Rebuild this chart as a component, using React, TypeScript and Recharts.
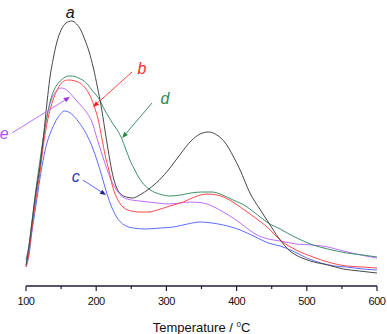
import { LineChart, Line, XAxis, YAxis, ReferenceLine, ReferenceDot, Label } from 'recharts';

// Temperatures (°C) and signal heights, one pair per curve
const tempA = [100, 104, 108, 114, 120, 125, 130, 134, 139, 144, 150, 157, 165, 172, 178, 184, 190, 196, 202, 207, 212, 217, 222, 228, 235, 243, 252, 262, 275, 290, 305, 320, 335, 348, 360, 372, 384, 395, 405, 419, 433, 445, 460, 476, 490, 505, 530, 552, 575, 600];
const sigA = [21, 38, 60, 93, 120, 150, 184, 208, 228, 244, 256, 263, 265, 262, 256, 246, 234, 218, 198, 180, 158, 136, 116, 100, 92, 89, 88, 91, 97, 106, 118, 132, 145, 152, 154, 151, 143, 130, 116, 93, 77, 64, 48, 35, 29, 25, 21, 17, 15, 13];

const tempB = [100, 104, 108, 114, 120, 125, 130, 135, 139, 145, 152, 160, 170, 182, 190, 197, 203, 208, 213, 218, 224, 231, 238, 250, 262, 275, 287, 305, 324, 340, 358, 372, 390, 405, 425, 445, 462, 485, 509, 530, 557, 580, 600];
const sigB = [19, 32, 55, 86, 114, 142, 163, 178, 187, 197, 204, 206, 205, 200, 192, 180, 166, 148, 130, 116, 98, 86, 79, 75, 74, 74, 76, 80, 84, 89, 92, 91, 86, 79, 69, 58, 46, 36, 29, 24, 20, 19, 18];

const tempC = [100, 104, 108, 114, 120, 128, 137, 145, 155, 165, 175, 186, 195, 201, 208, 215, 222, 229, 240, 253, 270, 292, 310, 330, 348, 365, 381, 405, 415, 430, 445, 462, 480, 500, 520, 540, 557, 580, 600];
const sigC = [19, 30, 52, 80, 108, 138, 157, 168, 175, 172, 164, 152, 138, 126, 110, 93, 79, 69, 61, 58, 57, 58, 59, 62, 64, 63, 61, 56, 53, 48, 43, 40, 35, 28, 23, 20, 19, 17, 16];

const tempD = [100, 104, 108, 114, 120, 125, 130, 135, 140, 146, 152, 160, 166, 175, 186, 195, 205, 212, 218, 224, 230, 236, 242, 248, 255, 262, 270, 277, 290, 305, 320, 335, 350, 365, 380, 395, 405, 415, 430, 445, 462, 480, 495, 509, 530, 557, 580, 600];
const sigD = [26, 40, 62, 96, 126, 150, 170, 186, 196, 203, 207, 210, 210, 208, 203, 195, 186, 176, 169, 162, 156, 148, 137, 126, 116, 107, 100, 96, 92, 90, 91, 93, 94, 94, 91, 86, 83, 79, 71, 63, 57, 50, 45, 41, 37, 33, 31, 29];

const tempE = [100, 104, 108, 114, 120, 125, 130, 136, 142, 150, 158, 165, 175, 185, 194, 201, 210, 220, 228, 236, 244, 262, 287, 301, 320, 334, 352, 365, 381, 395, 405, 418, 429, 445, 462, 485, 509, 530, 547, 570, 600];
const sigE = [20, 35, 58, 90, 120, 148, 170, 186, 194, 198, 196, 191, 183, 175, 164, 148, 128, 108, 97, 90, 87, 85, 83, 82, 83, 84, 83, 80, 74, 68, 63, 56, 51, 47, 45, 42, 41, 39, 36, 32, 28];

const xTicks = [100, 150, 200, 250, 300, 350, 400, 450, 500, 550, 600];

const toPoints = (t: number[], v: number[]) => t.map((x, i) => ({ t: x, v: v[i] }));

const series = [
  { key: 'e', color: '#bf6bff', data: toPoints(tempE, sigE) },
  { key: 'c', color: '#5b6cff', data: toPoints(tempC, sigC) },
  { key: 'd', color: '#3f8f68', data: toPoints(tempD, sigD) },
  { key: 'b', color: '#ff4a4a', data: toPoints(tempB, sigB) },
  { key: 'a', color: '#474747', data: toPoints(tempA, sigA) },
];

// curve labels and arrows, in data units
const letters = [
  { text: 'a', t: 163, v: 274, color: '#111111' },
  { text: 'b', t: 265, v: 218, color: '#ff2a2a' },
  { text: 'd', t: 298, v: 188, color: '#2f8a55' },
  { text: 'e', t: 69, v: 153, color: '#b04ef0' },
  { text: 'c', t: 171, v: 110, color: '#2b3cb8' },
];

const arrows = [
  { from: { x: 251, y: 214 }, to: { x: 195.5, y: 179 }, color: '#ff4a4a', head: '#ff1a1a' },
  { from: { x: 279.5, y: 183 }, to: { x: 237, y: 148 }, color: '#3f8f68', head: '#2a8a4a' },
  { from: { x: 80, y: 153 }, to: { x: 162.5, y: 189 }, color: '#c070ff', head: '#9a30e8' },
  { from: { x: 181, y: 106 }, to: { x: 214, y: 91 }, color: '#5b6cff', head: '#1e2a80' },
];

const FONT = '"Liberation Sans", Arial, sans-serif';
const AXIS = '#1c1c3a';

function AxisTick(props: any) {
  const { x, y, payload } = props;
  const major = payload.value % 100 === 0;
  return (
    <g>
      <line x1={x} y1={y} x2={x} y2={y + (major ? 5 : 3)} stroke={AXIS} strokeWidth={1.2} />
      {major && (
        <text x={x} y={y + 19} textAnchor="middle" fontSize={11} fontFamily={FONT} fill="#111" letterSpacing={-0.5}>
          {payload.value}
        </text>
      )}
    </g>
  );
}

function arrowShape(color: string, head: string) {
  return (p: any) => {
    const { x1, y1, x2, y2 } = p;
    const dx = x2 - x1;
    const dy = y2 - y1;
    const len = Math.sqrt(dx * dx + dy * dy) || 1;
    const ux = dx / len;
    const uy = dy / len;
    const bx = x2 - ux * 6;
    const by = y2 - uy * 6;
    const pts = `${x2},${y2} ${bx - uy * 2.5},${by + ux * 2.5} ${bx + uy * 2.5},${by - ux * 2.5}`;
    return (
      <g>
        <line x1={x1} y1={y1} x2={bx} y2={by} stroke={color} strokeWidth={1} />
        <polygon points={pts} fill={head} />
      </g>
    );
  };
}

function letterShape(text: string, color: string) {
  return (p: any) => (
    <text x={p.cx} y={p.cy} textAnchor="middle" dominantBaseline="central" fontSize={16} fontStyle="italic" fontFamily={FONT} fill={color}>
      {text}
    </text>
  );
}

export default function App() {
  return (
    <div style={{ position: 'absolute', left: 0, top: 0, background: '#fff' }}>
      <LineChart width={387} height={334} margin={{ top: 6, right: 10, bottom: 18, left: 26 }}>
        <XAxis
          dataKey="t"
          type="number"
          domain={[100, 600]}
          ticks={xTicks}
          interval={0}
          height={30}
          tickSize={0}
          tickMargin={0}
          tickLine={false}
          tick={<AxisTick />}
          axisLine={{ stroke: AXIS, strokeWidth: 1.5 }}
          allowDuplicatedCategory={false}
        >
          <Label
            content={(p: any) => {
              const vb = p.viewBox;
              return (
                <text x={vb.x + vb.width / 2} y={vb.y + 46} textAnchor="middle" fontSize={13} fontFamily={FONT} fill="#111">
                  Temperature /{' '}
                  <tspan dy={-5} fontSize={8}>0</tspan>
                  <tspan dy={5}>C</tspan>
                </text>
              );
            }}
          />
        </XAxis>
        <YAxis type="number" domain={[0, 280]} hide />
        {series.map((s) => (
          <Line
            key={s.key}
            data={s.data}
            dataKey="v"
            type="monotone"
            stroke={s.color}
            strokeWidth={1}
            dot={false}
            isAnimationActive={false}
          />
        ))}
        {arrows.map((a, i) => (
          <ReferenceLine
            key={`arrow-${i}`}
            segment={[a.from, a.to]}
            ifOverflow="visible"
            shape={arrowShape(a.color, a.head)}
          />
        ))}
        {letters.map((l) => (
          <ReferenceDot
            key={`label-${l.text}`}
            x={l.t}
            y={l.v}
            r={0}
            ifOverflow="visible"
            shape={letterShape(l.text, l.color)}
          />
        ))}
      </LineChart>
    </div>
  );
}
